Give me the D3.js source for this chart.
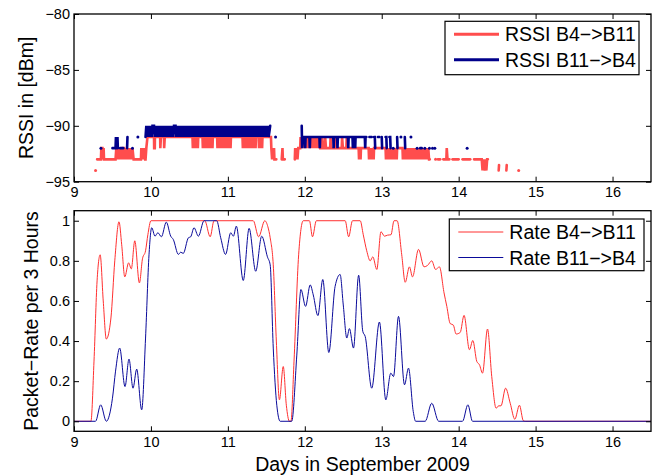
<!DOCTYPE html>
<html>
<head>
<meta charset="utf-8">
<script src="https://cdn.jsdelivr.net/npm/d3@7"></script>
<style>
  body { margin: 0; background: #fff; }
  text { font-family: "Liberation Sans", Arial, sans-serif; fill: #000; }
</style>
</head>
<body>
<svg id="vis"></svg>
<script>
const WIDTH = 655;
const HEIGHT = 475;

const X_TICKS = [9, 10, 11, 12, 13, 14, 15, 16];
const RSSI_TICKS = [-95, -90, -85, -80];
const RATE_TICKS = [0, 0.2, 0.4, 0.6, 0.8, 1];

const RSSI_NAMES = ["RSSI B4\u2212>B11", "RSSI B11\u2212>B4"];
const RATE_NAMES = ["Rate B4\u2212>B11", "Rate B11\u2212>B4"];

// RSSI samples [day, dBm]; null breaks the line
const rssiFwd = [
  [9.28,-94], null,
  [9.30,-93],[9.35,-93],[9.355,-92],[9.37,-92],[9.375,-93],[9.385,-92],[9.39,-93],[9.54,-93],
  [9.55,-92],[9.56,-93],[9.57,-92],[9.585,-93],[9.59,-92],[9.60,-93],[9.615,-92],[9.625,-93],[9.635,-92],[9.65,-92],
  [9.655,-93],[9.665,-92],[9.68,-93],[9.69,-92],[9.70,-93],[9.71,-92],[9.725,-93],[9.735,-92],[9.75,-93],[9.76,-92],[9.775,-93],
  [9.87,-93],[9.875,-92],[9.885,-93],[9.895,-92],[9.905,-93],[9.915,-92],[9.925,-93],[9.93,-93],[9.94,-92],[9.955,-91],
  [10.04,-91],[10.042,-92],[10.05,-92],[10.052,-91],[10.12,-91],[10.122,-92],[10.13,-91],[10.17,-91],[10.172,-92],[10.18,-91],
  [10.54,-91],[10.545,-92],[10.555,-91],[10.565,-92],[10.575,-91],[10.59,-92],[10.60,-91],[10.61,-92],[10.615,-91],
  [10.67,-91],[10.675,-92],[10.685,-91],[10.70,-92],[10.71,-91],[10.725,-92],[10.735,-91],[10.75,-92],[10.76,-91],[10.775,-92],[10.785,-91],[10.80,-92],[10.805,-91],
  [10.86,-91],[10.865,-92],[10.875,-91],[10.885,-92],[10.895,-91],[10.905,-92],[10.915,-91],[10.925,-92],[10.935,-91],[10.945,-92],
  [10.955,-91],[10.965,-92],[10.975,-91],[10.99,-92],[11.00,-91],[11.015,-92],[11.025,-91],[11.035,-92],[11.04,-91],
  [11.19,-91],[11.195,-92],[11.205,-91],[11.215,-92],[11.225,-91],[11.235,-92],[11.245,-91],[11.26,-92],[11.27,-91],[11.28,-92],
  [11.29,-91],[11.30,-92],[11.31,-91],[11.32,-92],[11.33,-91],[11.345,-92],[11.355,-91],[11.36,-92],[11.365,-91],
  [11.40,-91],[11.405,-92],[11.415,-91],[11.425,-92],[11.435,-91],[11.445,-92],[11.45,-91],
  [11.56,-91],[11.565,-92],[11.575,-93],[11.58,-92],[11.59,-93],[11.60,-92],[11.605,-93],[11.63,-93], null,
  [11.70,-93],[11.71,-92],[11.715,-93],[11.74,-93], null,
  [11.87,-93],[11.875,-92],[11.885,-93],[11.895,-92],[11.905,-93],[11.915,-92],
  [11.94,-92],[11.945,-91],[11.955,-92],[11.965,-91],[11.975,-92],[11.985,-91],[11.995,-92],[12.005,-91],[12.015,-92],[12.025,-91],
  [12.035,-92],[12.045,-91],[12.055,-92],[12.065,-91],[12.075,-92],[12.085,-91],[12.095,-92],[12.105,-91],[12.115,-92],[12.125,-91],
  [12.135,-92],[12.145,-91],[12.155,-92],[12.165,-91],[12.175,-92],[12.19,-91],[12.20,-92],[12.22,-92],[12.225,-91],[12.235,-92],
  [12.26,-92],[12.265,-91],[12.275,-92],[12.33,-92],[12.335,-91],[12.345,-92],[12.40,-92],[12.405,-91],[12.415,-92],
  [12.48,-92],[12.485,-91],[12.495,-92],[12.54,-92],[12.545,-91],[12.555,-92],
  [12.70,-92],[12.705,-93],[12.715,-92],[12.725,-93],[12.73,-92],
  [12.83,-92],[12.835,-93],[12.845,-92],[12.855,-93],[12.865,-92],[12.875,-93],[12.885,-92],[12.895,-93],[12.90,-92],
  [13.05,-92],[13.055,-93],[13.065,-92],[13.075,-93],[13.085,-92],[13.095,-93],[13.105,-92],[13.115,-93],[13.125,-92],[13.135,-93],
  [13.145,-92],[13.155,-93],[13.165,-92],[13.175,-93],[13.185,-92],[13.195,-93],[13.20,-92],
  [13.27,-92],[13.275,-93],[13.285,-92],[13.295,-93],[13.305,-92],[13.315,-93],[13.325,-92],[13.335,-93],[13.345,-92],[13.355,-93],
  [13.365,-92],[13.375,-93],[13.385,-92],[13.395,-93],[13.405,-92],[13.415,-93],[13.425,-92],[13.435,-93],[13.445,-92],[13.455,-93],
  [13.465,-92],[13.475,-93],[13.485,-92],[13.495,-93],[13.505,-92],[13.515,-93],[13.525,-92],[13.535,-93],[13.545,-92],[13.555,-93],
  [13.565,-92],[13.575,-93],[13.585,-92],[13.595,-93],[13.605,-92],[13.615,-93],[13.625,-93], null,
  [13.70,-93], null, [13.73,-93],[13.76,-93], null, [13.80,-93],[13.84,-93],[13.845,-92],[13.855,-93],[13.88,-93], null,
  [13.92,-93],[14.00,-93], null, [14.05,-93],[14.15,-93], null,
  [14.20,-93],[14.30,-93],[14.31,-94],[14.32,-93],[14.34,-94],[14.345,-93],[14.36,-94],[14.37,-93],[14.38,-93], null,
  [14.52,-94],[14.525,-93.5], null, [14.62,-94],[14.625,-93.5], null, [14.78,-94]
];

const rssiRev = [
  [9.35,-92], null,
  [9.50,-92],[9.54,-92],[9.545,-91],[9.555,-92],[9.565,-91],[9.57,-92], null,
  [9.60,-92],[9.64,-92], null, [9.69,-92],[9.695,-91], null, [9.76,-92], null, [9.83,-91], null,
  [9.93,-91],[9.94,-90],[9.95,-91],[9.96,-90],[9.97,-91],[9.98,-90],[9.99,-91],[10.00,-90],[10.01,-91],[10.02,-90],
  [10.04,-90],[10.05,-91],[10.06,-90],[10.07,-91],[10.08,-90],[10.09,-91],[10.10,-90],[10.11,-91],[10.12,-90],[10.13,-91],
  [10.14,-90],[10.15,-91],[10.16,-90],[10.17,-91],[10.18,-90],[10.19,-91],[10.20,-90],[10.21,-91],[10.22,-90],[10.23,-91],
  [10.24,-90],[10.25,-91],[10.26,-90],[10.27,-91],[10.28,-90],[10.29,-91],[10.30,-90],[10.32,-90],[10.33,-91],[10.34,-90],
  [10.35,-91],[10.36,-90],[10.37,-91],[10.38,-90],[10.39,-91],[10.40,-90],[10.41,-91],[10.42,-90],[10.43,-91],[10.44,-90],
  [10.45,-91],[10.46,-90],[10.47,-91],[10.48,-90],[10.49,-91],[10.50,-90],[10.51,-91],[10.52,-90],[10.53,-91],[10.54,-90],
  [10.55,-91],[10.56,-90],[10.57,-91],[10.58,-90],[10.59,-91],[10.60,-90],[10.61,-91],[10.62,-90],[10.63,-91],[10.64,-90],
  [10.65,-91],[10.66,-90],[10.67,-91],[10.68,-90],[10.69,-91],[10.70,-90],[10.71,-91],[10.72,-90],[10.73,-91],[10.74,-90],
  [10.75,-91],[10.76,-90],[10.77,-91],[10.78,-90],[10.79,-91],[10.80,-90],[10.81,-91],[10.82,-90],[10.83,-91],[10.84,-90],
  [10.85,-91],[10.86,-90],[10.87,-91],[10.88,-90],[10.89,-91],[10.90,-90],[10.91,-91],[10.92,-90],[10.93,-91],[10.94,-90],
  [10.95,-91],[10.96,-90],[10.97,-91],[10.98,-90],[10.99,-91],[11.00,-90],[11.01,-91],[11.02,-90],[11.03,-91],[11.04,-90],
  [11.05,-91],[11.06,-90],[11.07,-91],[11.08,-90],[11.09,-91],[11.10,-90],[11.11,-91],[11.12,-90],[11.13,-91],[11.14,-90],
  [11.15,-91],[11.16,-90],[11.17,-91],[11.18,-90],[11.19,-91],[11.20,-90],[11.21,-91],[11.22,-90],[11.23,-91],[11.24,-90],
  [11.25,-91],[11.26,-90],[11.27,-91],[11.28,-90],[11.29,-91],[11.30,-90],[11.31,-91],[11.32,-90],[11.33,-91],[11.34,-90],
  [11.35,-91],[11.36,-90],[11.37,-91],[11.38,-90],[11.39,-91],[11.40,-90],[11.41,-91],[11.42,-90],[11.43,-91],[11.44,-90],
  [11.45,-91],[11.46,-90],[11.47,-91],[11.48,-90],[11.49,-91],[11.50,-90],[11.51,-91],[11.52,-90],[11.53,-91],[11.55,-90], null,
  [11.62,-91], null,
  [11.96,-90],[11.965,-92],[11.975,-91],[12.00,-91],[12.005,-92],[12.01,-91],[12.06,-91],[12.065,-92],[12.07,-91],
  [12.19,-91],[12.195,-92],[12.20,-91],[12.37,-91],[12.375,-92],[12.38,-91],[12.42,-91],[12.425,-92],[12.43,-91],
  [12.56,-91],[12.565,-92],[12.57,-91],[12.62,-91],[12.625,-92],[12.63,-91],[12.65,-91],[12.655,-92],[12.66,-91],
  [12.78,-91],[12.785,-92],[12.79,-91],[12.80,-91], null,
  [12.84,-91],[12.87,-91], null, [12.90,-91],[12.91,-91],[12.915,-92], null, [12.95,-91],[12.97,-91], null,
  [13.00,-91],[13.005,-92], null, [13.05,-91],[13.06,-91],[13.065,-92], null, [13.10,-91],[13.11,-91],[13.115,-92], null,
  [13.15,-92], null, [13.20,-91],[13.205,-92], null, [13.25,-91], null, [13.30,-91],[13.305,-92], null, [13.38,-91], null,
  [13.46,-92], null, [13.50,-92],[13.52,-92], null, [13.56,-92], null, [13.62,-92], null, [13.66,-92], null, [13.69,-92], null,
  [14.11,-92]
];

// packet rate per 3 hours [day, rate]
const rateFwd = [
  [9.0,0],[9.22,0],[9.26,0.3],[9.30,0.7],[9.34,0.83],[9.38,0.6],[9.42,0.41],[9.48,0.515],[9.53,0.8],[9.585,0.995],
  [9.62,0.88],[9.66,0.72],[9.71,0.79],[9.745,0.76],[9.79,0.90],[9.85,0.69],[9.89,0.81],[9.93,0.85],[9.96,0.93],[10.0,1.0],
  [10.70,1.0],[10.77,0.92],[10.82,1.0],[11.33,1.0],[11.40,0.92],[11.48,1.0],[11.52,0.97],[11.55,0.915],[11.59,0.78],[11.63,0.4],
  [11.67,0.107],[11.72,0.273],[11.76,0.08],[11.80,0],[11.82,0],[11.86,0.3],[11.92,0.83],[11.98,1.0],[12.06,1.0],[12.10,0.92],
  [12.15,1.0],[12.525,1.0],[12.57,0.92],[12.62,1.0],[12.72,1.0],[12.76,0.93],[12.805,0.85],[12.85,0.80],[12.884,0.82],[12.936,0.757],
  [12.99,0.945],[13.036,0.923],[13.075,0.928],[13.12,0.93],[13.16,1.0],[13.2,1.0],[13.26,0.83],[13.305,0.693],[13.36,0.77],[13.40,0.72],
  [13.478,0.857],[13.55,0.77],[13.595,0.777],[13.65,0.80],[13.70,0.757],[13.75,0.77],[13.81,0.64],[13.846,0.573],[13.89,0.487],[13.93,0.48],
  [13.967,0.435],[14.02,0.443],[14.07,0.528],[14.14,0.357],[14.184,0.403],[14.236,0.298],[14.27,0.282],[14.31,0.24],[14.375,0.46],[14.43,0.223],
  [14.487,0.065],[14.52,0.077],[14.55,0.077],[14.61,0.165],[14.67,0.09],[14.73,0.01],[14.79,0.08],[14.84,0.003],[14.87,0],[16.5,0]
];

const rateRev = [
  [9.0,0],[9.28,0],[9.347,0.082],[9.42,0],[9.5,0.115],[9.54,0.25],[9.594,0.365],[9.663,0.173],[9.715,0.31],[9.767,0.165],
  [9.815,0.26],[9.88,0.057],[9.93,0.415],[9.975,0.83],[10.01,0.965],[10.053,0.923],[10.09,0.94],[10.136,0.92],[10.20,0.993],[10.257,0.923],
  [10.29,0.907],[10.357,0.832],[10.387,0.843],[10.42,0.837],[10.487,0.915],[10.517,0.92],[10.56,0.965],[10.617,0.923],[10.69,1.0],[10.855,1.0],
  [10.907,0.915],[10.97,0.832],[11.037,0.94],[11.072,0.923],[11.11,0.973],[11.2,0.702],[11.276,0.962],[11.362,0.748],[11.44,0.923],[11.514,0.82],
  [11.55,0.78],[11.59,0.365],[11.636,0.08],[11.68,0],[11.83,0],[11.896,0.33],[11.95,0.657],[12.01,0.573],[12.07,0.68],[12.11,0.63],
  [12.17,0.527],[12.234,0.707],[12.312,0.343],[12.394,0.673],[12.459,0.732],[12.50,0.58],[12.546,0.415],[12.58,0.462],[12.633,0.365],[12.70,0.728],
  [12.754,0.448],[12.785,0.423],[12.87,0.165],[12.97,0.495],[13.053,0.107],[13.118,0.24],[13.153,0.223],[13.218,0.523],[13.296,0.182],[13.348,0.265],
  [13.41,0.048],[13.44,0],[13.565,0],[13.65,0.09],[13.74,0],[14.05,0],[14.12,0.082],[14.18,0],[16.5,0]
];

const RED = "#ff4d4d";
const BLUE = "#00008b";

const SVG = d3.select("#vis").attr("width", WIDTH).attr("height", HEIGHT);

const margin = { left: 74, right: 4 };
const topPanel = { top: 14, bottom: 181.7 };
const botPanel = { top: 210.7, bottom: 431.3 };

const x = d3.scaleLinear().domain([9, 16.5]).range([margin.left, WIDTH - margin.right]);
const yRssi = d3.scaleLinear().domain([-95, -80]).range([topPanel.bottom, topPanel.top]);
const yRate = d3.scaleLinear().domain([-0.05, 1.05]).range([botPanel.bottom, botPanel.top]);

// split a [t,v] list into runs at null markers
function segments(list) {
  const out = [];
  let cur = [];
  list.forEach((p) => {
    if (p === null) { if (cur.length) out.push(cur); cur = []; }
    else cur.push(p);
  });
  if (cur.length) out.push(cur);
  return out;
}

function frame(g, y, ticks, fmt, top, bottom) {
  const x0 = x.range()[0], x1 = x.range()[1];
  const bAx = g.append("g").attr("transform", `translate(0,${bottom})`)
    .call(d3.axisBottom(x).tickValues(X_TICKS).tickSizeInner(-5).tickSizeOuter(0).tickPadding(5));
  const tAx = g.append("g").attr("transform", `translate(0,${top})`)
    .call(d3.axisTop(x).tickValues(X_TICKS).tickSizeInner(-5).tickSizeOuter(0).tickFormat(""));
  const lAx = g.append("g").attr("transform", `translate(${x0},0)`)
    .call(d3.axisLeft(y).tickValues(ticks).tickFormat(fmt).tickSizeInner(-5).tickSizeOuter(0).tickPadding(4));
  const rAx = g.append("g").attr("transform", `translate(${x1},0)`)
    .call(d3.axisRight(y).tickValues(ticks).tickSizeInner(-5).tickSizeOuter(0).tickFormat(""));
  [bAx, tAx, lAx, rAx].forEach((a) => {
    a.select(".domain").remove();
    a.selectAll("line").attr("stroke", "#000").attr("stroke-width", 1);
    a.selectAll("text").attr("font-size", 14.5).attr("font-family", "Liberation Sans, Arial, sans-serif").attr("fill", "#000");
  });
  g.append("rect")
    .attr("x", x0).attr("y", top)
    .attr("width", x1 - x0).attr("height", bottom - top)
    .attr("fill", "none").attr("stroke", "#000").attr("stroke-width", 1.3);
}

function legend(g, names, colors, box, lw) {
  g.append("rect")
    .attr("x", box.x).attr("y", box.y).attr("width", box.w).attr("height", box.h)
    .attr("fill", "#fff").attr("stroke", "#000").attr("stroke-width", 1.2);
  names.forEach((n, i) => {
    const yy = box.y + 13 + i * 25.5;
    g.append("line")
      .attr("x1", box.x + 9).attr("x2", box.x + 54)
      .attr("y1", yy).attr("y2", yy)
      .attr("stroke", colors[i]).attr("stroke-width", lw);
    g.append("text")
      .attr("x", box.x + 60).attr("y", yy + 7)
      .attr("font-size", 19.5)
      .text(n);
  });
}

// ---- top panel: RSSI ----
const cht_rssi = SVG.append("g").attr("id", "rssi");
const rssiLine = d3.line().x((d) => x(d[0])).y((d) => yRssi(d[1]));

[[rssiFwd, RED], [rssiRev, BLUE]].forEach(([data, col]) => {
  const segs = segments(data);
  cht_rssi.selectAll(null)
    .data(segs.filter((s) => s.length > 1))
    .enter()
    .append("path")
    .attr("d", rssiLine)
    .attr("fill", "none")
    .attr("stroke", col)
    .attr("stroke-width", 2.6)
    .attr("stroke-linecap", "round");
  cht_rssi.selectAll(null)
    .data(segs.filter((s) => s.length === 1))
    .enter()
    .append("circle")
    .attr("cx", (d) => x(d[0][0]))
    .attr("cy", (d) => yRssi(d[0][1]))
    .attr("r", 1.5)
    .attr("fill", col);
});

frame(cht_rssi, yRssi, RSSI_TICKS, d3.format("d"), topPanel.top, topPanel.bottom);
legend(cht_rssi, RSSI_NAMES, [RED, BLUE], { x: 445, y: 21.3, w: 194, h: 53.4 }, 3);

cht_rssi.append("text")
  .attr("transform", `translate(33,${(topPanel.top + topPanel.bottom) / 2}) rotate(-90)`)
  .attr("text-anchor", "middle")
  .attr("font-size", 19.5)
  .text("RSSI in [dBm]");

// ---- bottom panel: packet rate ----
const cht_rate = SVG.append("g").attr("id", "rate");
const rateLine = d3.line().x((d) => x(d[0])).y((d) => yRate(d[1])).curve(d3.curveMonotoneX);

cht_rate.append("path").datum(rateFwd)
  .attr("d", rateLine).attr("fill", "none").attr("stroke", "#ff3030").attr("stroke-width", 1);
cht_rate.append("path").datum(rateRev)
  .attr("d", rateLine).attr("fill", "none").attr("stroke", "#0a0a9a").attr("stroke-width", 1);

frame(cht_rate, yRate, RATE_TICKS, (d) => String(d), botPanel.top, botPanel.bottom);
legend(cht_rate, RATE_NAMES, ["#ff3030", "#0a0a9a"], { x: 449.3, y: 219, w: 194.7, h: 51.7 }, 1);

cht_rate.append("text")
  .attr("transform", `translate(37.5,${(botPanel.top + botPanel.bottom) / 2}) rotate(-90)`)
  .attr("text-anchor", "middle")
  .attr("font-size", 19.5)
  .text("Packet\u2212Rate per 3 Hours");

SVG.append("text")
  .attr("x", (x.range()[0] + x.range()[1]) / 2)
  .attr("y", 471)
  .attr("text-anchor", "middle")
  .attr("font-size", 19.5)
  .text("Days in September 2009");
</script>
</body>
</html>
